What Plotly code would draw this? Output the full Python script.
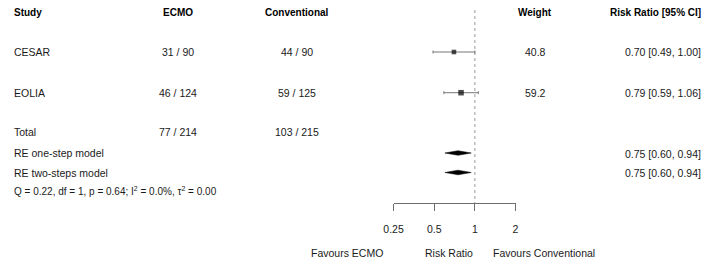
import math
import plotly.graph_objects as go

# ---- data ----
studies = ["CESAR", "EOLIA"]
ecmo_events = ["31 / 90", "46 / 124"]
conv_events = ["44 / 90", "59 / 125"]
weights = [40.8, 59.2]
rr = [0.70, 0.79]
rr_lo = [0.49, 0.59]
rr_hi = [1.00, 1.06]
total_ecmo = "77 / 214"
total_conv = "103 / 215"
pooled_labels = ["RE one-step model", "RE two-steps model"]
pooled_rr = [0.75, 0.75]
pooled_lo = [0.60, 0.60]
pooled_hi = [0.94, 0.94]
het_text = "Q = 0.22, df = 1, p = 0.64; I<sup>2</sup> = 0.0%, τ<sup>2</sup> = 0.00"
tick_vals = [0.25, 0.5, 1, 2]
tick_text = ["0.25", "0.5", "1", "2"]

# ---- layout constants (pixels) ----
W, H = 708, 259
AX_Y = 203
row_y = {"header": 12.7, "study": [52.0, 92.7], "total": 132.0,
         "pooled": [153.0, 172.5], "het": 191.0}
col_x = {"study": 3, "ecmo": 171.5, "conv": 292.5, "weight": 535, "rr": 705}
FONT = "Liberation Sans, Arial, sans-serif"
FS = 10.5
FSB = 10

def fmt_ci(e, l, h):
    return f"{e:.2f} [{l:.2f}, {h:.2f}]"

def py(p):
    return 1 - p / H

fig = go.Figure()

# study squares with CI
sizes = [0.72 * math.sqrt(w) for w in weights]
fig.add_trace(go.Scatter(
    x=rr, y=row_y["study"], mode="markers",
    marker=dict(symbol="square", size=sizes, color="black", line=dict(width=0)),
    error_x=dict(type="data", symmetric=False,
                 array=[h - e for h, e in zip(rr_hi, rr)],
                 arrayminus=[e - l for e, l in zip(rr, rr_lo)],
                 color="#777777", thickness=1, width=1.5),
    showlegend=False, hoverinfo="skip", cliponaxis=False))

# pooled diamonds
for yc, e, l, h in zip(row_y["pooled"], pooled_rr, pooled_lo, pooled_hi):
    hh = 2.3
    fig.add_trace(go.Scatter(
        x=[l, e, h, e, l], y=[yc, yc - hh, yc, yc + hh, yc],
        mode="lines", fill="toself", fillcolor="black",
        line=dict(color="black", width=0.5),
        showlegend=False, hoverinfo="skip"))

# reference line at 1
fig.add_shape(type="line", xref="x", yref="y", x0=1, x1=1, y0=10, y1=AX_Y,
              line=dict(color="#9a9a9a", width=1, dash="dot"), layer="below")

ann = []
def text(x, y, s, anchor="center", bold=False, color="#1a1a1a", size=None):
    ann.append(dict(x=x / W, y=py(y), xref="paper", yref="paper", text=(f"<b>{s}</b>" if bold else s),
                    showarrow=False, xanchor=anchor, yanchor="middle", borderpad=0,
                    font=dict(family=FONT, size=(size or (FSB if bold else FS)), color=color)))

# headers
text(col_x["study"], row_y["header"], "Study", "left", True, "black")
text(col_x["ecmo"], row_y["header"], "ECMO", "center", True, "black")
text(col_x["conv"], row_y["header"], "Conventional", "center", True, "black")
text(col_x["weight"], row_y["header"], "Weight", "center", True, "black")
text(col_x["rr"], row_y["header"], "Risk Ratio [95% CI]", "right", True, "black")

for i, s in enumerate(studies):
    y = row_y["study"][i]
    text(col_x["study"], y, s, "left")
    text(col_x["ecmo"], y, ecmo_events[i])
    text(col_x["conv"], y, conv_events[i])
    text(col_x["weight"], y, f"{weights[i]:.1f}")
    text(col_x["rr"], y, fmt_ci(rr[i], rr_lo[i], rr_hi[i]), "right")

text(col_x["study"], row_y["total"], "Total", "left")
text(col_x["ecmo"], row_y["total"], total_ecmo)
text(col_x["conv"], row_y["total"], total_conv)

for i, lab in enumerate(pooled_labels):
    y = row_y["pooled"][i]
    text(col_x["study"], y, lab, "left")
    text(col_x["rr"], y + 0.5, fmt_ci(pooled_rr[i], pooled_lo[i], pooled_hi[i]), "right")

text(col_x["study"], row_y["het"], het_text, "left", size=10)

text(343, 253, "Favours ECMO")
text(447, 253, "Risk Ratio")
text(543.5, 253, "Favours Conventional")

x0px, x1px = 390.7, 515.0
fig.update_layout(
    width=W, height=H, margin=dict(l=0, r=0, t=0, b=0),
    paper_bgcolor="white", plot_bgcolor="white",
    annotations=ann, showlegend=False,
    xaxis=dict(type="log", domain=[x0px / W, x1px / W],
               range=[math.log10(0.25), math.log10(2)],
               showgrid=False, zeroline=False, showline=True, linecolor="#6e6e6e", linewidth=1,
               ticks="outside", ticklen=7, tickwidth=1, tickcolor="#6e6e6e",
               tickvals=tick_vals, ticktext=tick_text, ticklabelstandoff=9,
               tickfont=dict(family=FONT, size=FS, color="#1a1a1a"), fixedrange=True),
    yaxis=dict(domain=[py(AX_Y), 1], range=[AX_Y, 0], visible=False, fixedrange=True),
)

fig.write_html("out.html", config={"displayModeBar": False},
               post_script="document.body.style.margin='0';document.body.style.overflow='hidden';")
